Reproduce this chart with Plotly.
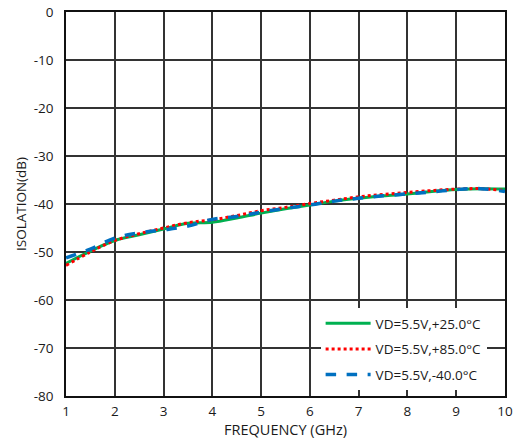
import plotly.graph_objects as go

freq = [1.0, 1.5, 2.0, 2.5, 3.0, 3.5, 4.0, 4.5, 5.0, 5.5, 6.0, 6.5, 7.0, 7.5, 8.0, 8.5, 9.0, 9.5, 10.0]
iso_25 = [-52.4, -49.8, -47.6, -46.4, -45.2, -44.0, -43.8, -42.9, -41.9, -41.0, -40.2, -39.4, -38.8, -38.3, -37.9, -37.4, -37.0, -36.8, -36.9]
iso_85 = [-52.8, -50.0, -47.6, -46.2, -45.0, -43.9, -43.3, -42.4, -41.4, -40.7, -39.9, -39.2, -38.5, -38.0, -37.6, -37.2, -36.9, -36.8, -37.2]
iso_m40 = [-51.2, -49.4, -47.1, -46.0, -45.4, -44.6, -43.2, -42.6, -41.7, -40.9, -40.2, -39.4, -38.8, -38.3, -37.9, -37.5, -37.0, -36.8, -37.4]
names = ["VD=5.5V,+25.0\u00b0C", "VD=5.5V,+85.0\u00b0C", "VD=5.5V,-40.0\u00b0C"]
x_ticks = [1, 2, 3, 4, 5, 6, 7, 8, 9, 10]
y_ticks = [0, -10, -20, -30, -40, -50, -60, -70, -80]
y_tick_text = ["0", "-10", "-20", "-30", "-40", "-50", "-60", "-70", "-80"]

FONT = "Open Sans"
FS = 13.5
TXT = "#1a1a1a"
fig = go.Figure()
fig.add_trace(go.Scatter(x=freq, y=iso_25, name=names[0], mode="lines", legendgroup="a",
                         line=dict(color="#00B050", width=3, shape="spline")))
fig.add_trace(go.Scatter(x=freq, y=iso_85, name=names[1], mode="lines", legendgroup="b",
                         line=dict(color="#FF0000", width=3, dash="dot", shape="spline")))
fig.add_trace(go.Scatter(x=freq, y=iso_m40, name=names[2], mode="lines", legendgroup="c",
                         line=dict(color="#0070C0", width=3.5, dash="dash", shape="spline")))

axis_common = dict(showgrid=True, gridcolor="#333333", gridwidth=1.6, showline=True,
                   linecolor="#111111", linewidth=1.5, mirror=True, zeroline=False,
                   tickfont=dict(family=FONT, size=FS, color=TXT), ticks="", automargin=False,
                   ticklabeloverflow="allow")
fig.update_xaxes(range=[1, 10], tickvals=x_ticks, ticklabelstandoff=2,
                 title=dict(text="FREQUENCY (GHz)", font=dict(family=FONT, size=14.5, color=TXT), standoff=3),
                 **axis_common)
fig.update_yaxes(range=[-80, 0], tickvals=y_ticks, ticktext=y_tick_text, ticklabelstandoff=8,
                 title=dict(text="ISOLATION(dB)", font=dict(family=FONT, size=FS, color=TXT), standoff=4),
                 **axis_common)
fig.update_layout(
    width=514, height=444,
    margin=dict(l=66, r=9, t=12, b=48),
    paper_bgcolor="white", plot_bgcolor="white",
    font=dict(family=FONT, size=FS, color=TXT),
    legend=dict(x=0.58, y=0.229, xanchor="left", yanchor="top", bgcolor="white",
                traceorder="grouped", tracegroupgap=5, itemwidth=45,
                font=dict(family=FONT, size=FS, color=TXT)),
)
# remove the browser's default 8px body margin so the figure fills the window exactly
fig.write_html("out.html", config={"displayModeBar": False},
               post_script="document.body.style.margin='0';")
